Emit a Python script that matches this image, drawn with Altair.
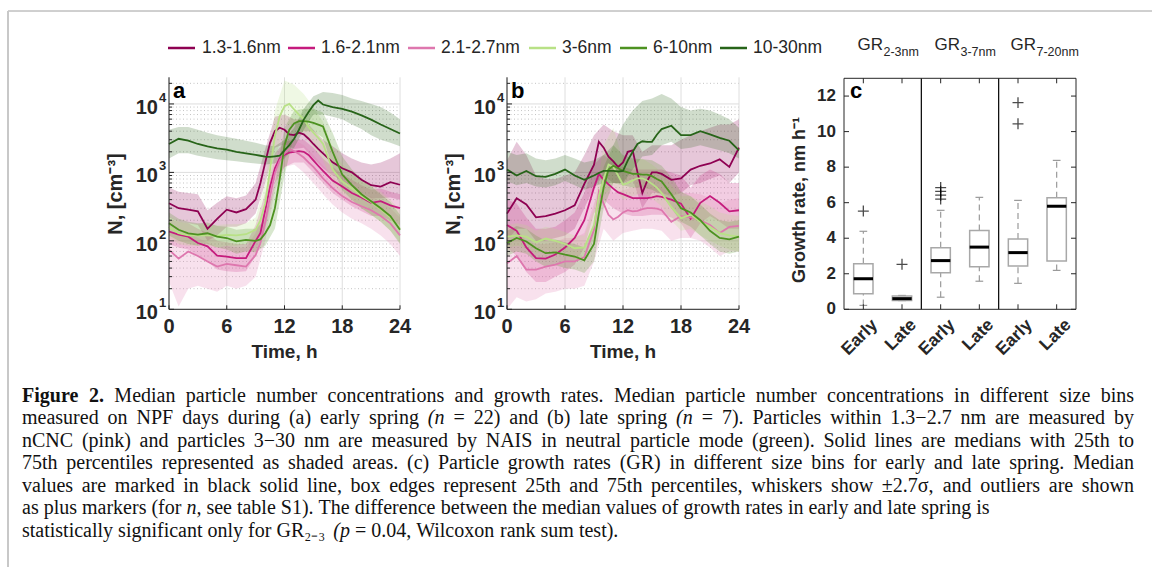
import altair as alt
import pandas as pd

# ---------------- data ----------------
SERIES = ["1.3-1.6nm", "1.6-2.1nm", "2.1-2.7nm", "3-6nm", "6-10nm", "10-30nm"]
COLORS = ["#8e0152", "#c51b7d", "#de77ae", "#b8e186", "#4d9221", "#276419"]

T_MED = [0, 1, 2, 3, 4, 5, 6, 7, 8, 9, 9.5, 10, 10.5, 11, 11.5, 12, 12.5, 13, 13.5,
         14, 14.5, 15, 15.5, 16, 17, 18, 19, 20, 21, 22, 23, 24]
T_BAND = [0, 1, 2, 3, 4, 5, 6, 7, 8, 9, 10, 11, 12, 13, 14, 15, 16, 17, 18, 19, 20, 21, 22, 23, 24]

# panel a (early spring) medians
A_MED_1316 = [355, 300, 285, 270, 150, 210, 285, 260, 290, 400, 700, 1400, 2700, 4000, 4500, 4200, 3600, 3500, 3800, 3600, 3100, 2600, 2200, 1900, 1400, 1150, 1000, 780, 650, 620, 720, 660]
A_MED_1621 = [137, 123, 115, 93, 83, 61, 59, 56, 56, 100, 130, 280, 620, 1150, 1600, 1800, 1950, 2000, 2050, 2000, 1800, 1500, 1250, 1050, 760, 620, 500, 430, 360, 380, 330, 300]
A_MED_2127 = [74, 55, 70, 60, 50, 42, 46, 44, 42, 62, 93, 190, 450, 970, 1500, 1900, 2200, 2050, 1850, 1650, 1400, 1200, 1000, 820, 590, 450, 370, 320, 280, 230, 180, 120]
A_MED_36 = [160, 130, 120, 120, 120, 118, 122, 120, 125, 145, 200, 355, 1100, 3400, 6600, 9300, 10000, 8300, 7000, 6000, 4600, 3800, 3200, 2600, 1100, 740, 580, 450, 370, 290, 220, 150]
A_MED_610 = [180, 145, 129, 123, 129, 115, 110, 98, 103, 100, 105, 129, 170, 300, 800, 2500, 4200, 5200, 5600, 5600, 5500, 5300, 5000, 4700, 2000, 930, 650, 480, 380, 300, 230, 145]
A_MED_1030 = [2600, 3100, 2900, 2600, 2400, 2250, 2150, 2000, 1900, 1800, 1750, 1700, 1680, 1720, 1750, 2100, 2500, 3100, 4200, 5900, 7600, 9600, 11200, 9800, 9000, 8500, 7700, 6800, 5900, 5000, 4300, 3700]

# panel a 25th / 75th percentiles (hourly)
A_LO_1316 = [220, 190, 180, 170, 100, 120, 160, 160, 180, 250, 700, 2300, 2600, 2200, 2300, 1600, 1150, 900, 750, 620, 500, 420, 420, 430, 400]
A_HI_1316 = [600, 520, 500, 480, 280, 360, 450, 420, 460, 700, 2200, 6500, 7000, 6000, 6000, 4200, 3000, 2400, 1900, 1600, 1400, 1300, 1400, 1600, 1900]
A_LO_1621 = [90, 80, 75, 60, 50, 38, 36, 35, 36, 60, 150, 700, 1200, 1400, 1400, 1000, 700, 500, 400, 320, 270, 230, 230, 200, 170]
A_HI_1621 = [210, 190, 180, 150, 130, 100, 95, 90, 90, 170, 500, 1900, 2800, 3000, 3000, 2300, 1600, 1200, 950, 780, 650, 560, 580, 520, 480]
A_LO_2127 = [25, 11, 20, 22, 20, 18, 22, 20, 22, 30, 100, 550, 1200, 1300, 1000, 700, 480, 340, 260, 210, 180, 150, 120, 90, 60]
A_HI_2127 = [140, 120, 130, 110, 95, 80, 85, 80, 80, 130, 350, 1600, 2900, 3000, 2500, 1800, 1250, 900, 700, 580, 500, 440, 380, 300, 220]
A_LO_36 = [110, 90, 85, 85, 85, 80, 85, 85, 90, 100, 200, 1500, 5000, 5000, 3500, 2300, 1500, 700, 480, 380, 300, 240, 190, 140, 95]
A_HI_36 = [230, 190, 180, 175, 175, 170, 175, 175, 180, 220, 700, 8000, 22000, 19000, 14000, 9000, 5500, 2300, 1300, 1000, 800, 650, 520, 400, 280]
A_LO_610 = [120, 100, 90, 85, 90, 80, 75, 65, 70, 68, 85, 150, 900, 3500, 4000, 4000, 3200, 1200, 550, 400, 300, 240, 190, 140, 90]
A_HI_610 = [260, 210, 190, 180, 185, 165, 160, 145, 150, 150, 200, 700, 4500, 8000, 8500, 8500, 7500, 3800, 1700, 1100, 800, 620, 480, 370, 240]
A_LO_1030 = [1600, 1900, 1900, 1750, 1650, 1550, 1500, 1450, 1400, 1350, 1300, 1350, 1600, 2300, 4200, 7000, 7000, 6500, 6000, 5000, 4300, 3500, 3000, 2700, 2400]
A_HI_1030 = [4200, 4600, 4600, 4200, 3800, 3500, 3300, 3100, 2900, 2700, 2500, 2400, 3000, 4500, 8500, 13000, 15000, 14500, 13500, 12000, 11000, 10000, 9000, 7500, 6000]

# panel b (late spring) medians
B_MED_1316 = [250, 420, 340, 220, 230, 250, 280, 330, 680, 1300, 2800, 2300, 1700, 1450, 1200, 1400, 2000, 2100, 1000, 500, 750, 1000, 1000, 950, 780, 820, 1100, 1250, 1350, 1550, 1200, 2300]
B_MED_1621 = [170, 140, 80, 56, 55, 63, 80, 110, 200, 600, 950, 780, 670, 580, 510, 480, 450, 420, 420, 420, 420, 430, 450, 440, 400, 350, 210, 360, 450, 360, 270, 280]
B_MED_2127 = [47, 60, 38, 38, 42, 45, 50, 50, 58, 145, 520, 350, 240, 205, 225, 260, 280, 270, 275, 290, 300, 300, 295, 280, 190, 230, 220, 200, 170, 130, 160, 165]
B_MED_36 = [115, 120, 115, 95, 108, 100, 90, 78, 80, 170, 450, 800, 1300, 1200, 900, 660, 700, 760, 820, 820, 760, 680, 600, 500, 310, 215, 240, 190, 160, 130, 120, 115]
B_MED_610 = [93, 110, 98, 78, 66, 68, 63, 59, 52, 90, 250, 600, 1100, 1250, 1150, 1050, 1000, 950, 950, 930, 930, 880, 800, 740, 480, 300, 260, 200, 140, 110, 105, 115]
B_MED_1030 = [1100, 900, 1050, 880, 860, 950, 1100, 900, 780, 900, 980, 1050, 1050, 1050, 1030, 1050, 1500, 2000, 2600, 2850, 2800, 2800, 3550, 4300, 4800, 3500, 3500, 4000, 3600, 3200, 2900, 2100]

# panel b 25th / 75th percentiles (hourly)
B_LO_1316 = [100, 150, 150, 100, 100, 110, 120, 150, 300, 600, 900, 700, 700, 800, 300, 500, 500, 450, 500, 650, 700, 800, 900, 700, 1000]
B_HI_1316 = [1500, 2800, 1800, 900, 800, 800, 900, 1000, 1800, 3500, 5000, 4000, 3500, 3500, 2000, 2500, 2500, 2500, 3000, 3500, 4000, 4500, 5000, 5000, 6000]
B_LO_1621 = [80, 60, 35, 25, 25, 30, 35, 45, 80, 250, 400, 300, 250, 230, 230, 240, 240, 220, 180, 110, 180, 230, 190, 150, 150]
B_HI_1621 = [400, 350, 220, 150, 150, 160, 200, 260, 500, 1300, 1800, 1400, 1200, 1100, 1100, 1100, 1100, 1000, 900, 600, 900, 1100, 950, 700, 700]
B_LO_2127 = [10, 15, 13, 14, 17, 18, 20, 20, 22, 50, 150, 100, 130, 140, 150, 150, 140, 100, 110, 110, 100, 80, 60, 70, 70]
B_HI_2127 = [140, 150, 100, 90, 90, 95, 110, 110, 130, 350, 800, 500, 550, 600, 650, 650, 600, 450, 500, 500, 480, 420, 350, 400, 420]
B_LO_36 = [80, 85, 80, 65, 75, 70, 62, 55, 55, 110, 450, 650, 400, 450, 500, 420, 320, 200, 140, 150, 120, 100, 85, 75, 70]
B_HI_36 = [170, 180, 170, 140, 160, 150, 135, 120, 120, 300, 2500, 4500, 1500, 1500, 1600, 1300, 1000, 650, 450, 450, 380, 320, 260, 240, 230]
B_LO_610 = [60, 70, 65, 50, 42, 44, 40, 38, 34, 50, 300, 700, 650, 600, 600, 560, 470, 300, 190, 160, 120, 90, 70, 65, 70]
B_HI_610 = [140, 165, 150, 120, 100, 105, 95, 90, 80, 160, 1200, 2500, 1800, 1600, 1550, 1500, 1250, 850, 520, 450, 340, 250, 200, 190, 200]
B_LO_1030 = [750, 650, 700, 620, 600, 650, 750, 650, 560, 620, 700, 700, 700, 1100, 1700, 1800, 2500, 2800, 2200, 2300, 2500, 2300, 2100, 1900, 1600]
B_HI_1030 = [2000, 1800, 1900, 1600, 1500, 1600, 1800, 1600, 1400, 1500, 1800, 2500, 5000, 8000, 11000, 12000, 14000, 12000, 9000, 8000, 8500, 8000, 7000, 6000, 4500]

# axis ticks of panels a, b
MAJOR_TICKS = [10, 100, 1000, 10000]
EXPONENTS = ["1", "2", "3", "4"]
MINOR_TICKS = [20, 30, 40, 50, 60, 70, 80, 90, 200, 300, 400, 500, 600, 700, 800, 900,
               2000, 3000, 4000, 5000, 6000, 7000, 8000, 9000, 20000]
HOUR_TICKS = [0, 6, 12, 18, 24]

# panel c: growth-rate box plots
GR_POS = [1, 2, 3, 4, 5, 6]
GR_CAT = ["Early", "Late", "Early", "Late", "Early", "Late"]
GR_WLO = [0.22, 0.49, 0.68, 1.58, 1.46, 2.19]
GR_Q1 = [0.88, 0.50, 2.06, 2.40, 2.44, 2.72]
GR_MED = [1.72, 0.60, 2.74, 3.50, 3.19, 5.80]
GR_Q3 = [2.57, 0.75, 3.47, 4.43, 3.96, 6.28]
GR_WHI = [4.39, 0.78, 5.57, 6.30, 6.13, 8.38]
OUT_POS = [1, 2, 3, 3, 3, 3, 5, 5]
OUT_VAL = [5.53, 2.53, 6.20, 6.42, 6.64, 6.85, 10.44, 11.63]
GR_TICKS = [0, 2, 4, 6, 8, 10, 12]
GR_GROUPS = ["2-3nm", "3-7nm", "7-20nm"]
GR_DIVIDERS = [2.5, 4.5]

CAPTION = [
    "Figure 2. Median particle number concentrations and growth rates. Median particle number concentrations in different size bins",
    "measured on NPF days during (a) early spring (n = 22) and (b) late spring (n = 7). Particles within 1.3\u22122.7 nm are measured by",
    "nCNC (pink) and particles 3\u221230 nm are measured by NAIS in neutral particle mode (green). Solid lines are medians with 25th to",
    "75th percentiles represented as shaded areas. (c) Particle growth rates (GR) in different size bins for early and late spring. Median",
    "values are marked in black solid line, box edges represent 25th and 75th percentiles, whiskers show \u00b12.7\u03c3, and outliers are shown",
    "as plus markers (for n, see table S1). The difference between the median values of growth rates in early and late spring is",
    "statistically significant only for GR\u2082\u208b\u2083 (p = 0.04, Wilcoxon rank sum test).",
]
CAPTION_JUSTIFIED = [True, True, True, True, True, False, False]
CAPTION_BOLD = {"Figure", "2."}
CAPTION_ITALIC = {"(n", "n,", "(p"}

# ---------------- layout / style ----------------
W, H = 1152, 567
SANS = "Liberation Sans"
SERIF = "Liberation Serif"
TXT = "#262626"
Y_BOT, Y_TOP = 309.3, 77.3
Y_DOMAIN = [10, 24500]
PANEL_A = (169, 400)
PANEL_B = (507, 739)
PANEL_C = (844, 1076)
C_TOP = 78.3
ONE = pd.DataFrame({"k": [0]})

# Times / Liberation Serif advance widths (1/1000 em)
SERIF_W = dict(zip("abcdefghijklmnopqrstuvwxyz",
                   [444, 500, 444, 500, 444, 333, 500, 500, 278, 278, 500, 278, 778, 500, 500, 500, 500,
                    333, 389, 278, 500, 500, 722, 500, 500, 444]))
SERIF_W.update(zip("ABCDEFGHIJKLMNOPQRSTUVWXYZ",
                   [722, 667, 667, 722, 611, 556, 722, 722, 333, 389, 722, 611, 889, 722, 722, 556, 722,
                    667, 556, 611, 722, 722, 944, 722, 722, 611]))
SERIF_W.update({d: 500 for d in "0123456789"})
SERIF_W.update({" ": 250, ".": 250, ",": 250, "(": 333, ")": 333, "-": 333, "=": 564,
                "\u2212": 564, "\u00b1": 564, "\u03c3": 550, ":": 278,
                "\u2082": 400, "\u2083": 400, "\u208b": 400})
SERIF_BOLD_W = dict(SERIF_W)
SERIF_BOLD_W.update({"F": 611, "i": 278, "g": 500, "u": 556, "r": 444, "e": 444})


def fixed_rule(**enc):
    return alt.Chart(ONE).mark_rule(color=enc.pop("color", TXT), strokeWidth=enc.pop("sw", 1)).encode(**enc)


def ts_panel(x0, x1, med, lo, hi, letter):
    xs = alt.Scale(domain=[0, 24], range=[x0, x1], nice=False, zero=False)
    ys = alt.Scale(type="log", domain=Y_DOMAIN, range=[Y_BOT, Y_TOP], nice=False)

    def X(f):
        return alt.X(f, type="quantitative", scale=xs, axis=None)

    def Y(f):
        return alt.Y(f, type="quantitative", scale=ys, axis=None)

    minor = pd.DataFrame({"v": MINOR_TICKS})
    major = pd.DataFrame({"v": MAJOR_TICKS, "base": ["10"] * 4, "exp": EXPONENTS})
    hours = pd.DataFrame({"t": HOUR_TICKS, "lab": [str(h) for h in HOUR_TICKS]})
    L = []
    L.append(alt.Chart(minor).mark_rule(color="#c4c4c4", strokeDash=[1, 2.5], strokeWidth=1)
             .encode(y=Y("v"), x=alt.value(x0), x2=alt.value(x1)))
    L.append(alt.Chart(major).mark_rule(color="#dedede", strokeWidth=1)
             .encode(y=Y("v"), x=alt.value(x0), x2=alt.value(x1)))
    L.append(alt.Chart(hours).mark_rule(color="#dedede", strokeWidth=1)
             .encode(x=X("t"), y=alt.value(Y_TOP), y2=alt.value(Y_BOT)))
    for i in range(6):
        df = pd.DataFrame({"t": T_BAND, "lo": lo[i], "hi": hi[i]})
        L.append(alt.Chart(df).mark_area(color=COLORS[i], opacity=0.22)
                 .encode(x=X("t"), y=Y("lo"), y2="hi"))
    for i in range(6):
        df = pd.DataFrame({"t": T_MED, "v": med[i]})
        L.append(alt.Chart(df).mark_line(color=COLORS[i], strokeWidth=1.8)
                 .encode(x=X("t"), y=Y("v")))
    # axes
    L.append(fixed_rule(x=alt.value(x0), y=alt.value(Y_TOP), y2=alt.value(Y_BOT)))
    L.append(fixed_rule(x=alt.value(x0), x2=alt.value(x1), y=alt.value(Y_BOT)))
    L.append(alt.Chart(major).mark_rule(color=TXT).encode(y=Y("v"), x=alt.value(x0), x2=alt.value(x0 + 5)))
    L.append(alt.Chart(minor).mark_rule(color=TXT).encode(y=Y("v"), x=alt.value(x0), x2=alt.value(x0 + 3)))
    L.append(alt.Chart(hours).mark_rule(color=TXT).encode(x=X("t"), y=alt.value(Y_BOT), y2=alt.value(Y_BOT - 4)))
    L.append(alt.Chart(major).mark_text(align="right", baseline="middle", font=SANS, fontSize=20,
                                        fontWeight="bold", color=TXT, dy=4)
             .encode(y=Y("v"), x=alt.value(x0 - 11), text="base:N"))
    L.append(alt.Chart(major).mark_text(align="left", baseline="middle", font=SANS, fontSize=13,
                                        fontWeight="bold", color=TXT, dy=-6)
             .encode(y=Y("v"), x=alt.value(x0 - 10), text="exp:N"))
    L.append(alt.Chart(hours).mark_text(align="center", baseline="middle", font=SANS, fontSize=20,
                                        fontWeight="bold", color=TXT)
             .encode(x=X("t"), y=alt.value(Y_BOT + 18), text="lab:N"))
    L.append(alt.Chart(ONE).mark_text(align="center", baseline="middle", font=SANS, fontSize=19,
                                      fontWeight="bold", color=TXT)
             .encode(x=alt.value((x0 + x1) / 2), y=alt.value(352), text=alt.value("Time, h")))
    L.append(alt.Chart(ONE).mark_text(align="center", baseline="middle", font=SANS, fontSize=20,
                                      fontWeight="bold", color=TXT, angle=270)
             .encode(x=alt.value(x0 - 53), y=alt.value(194), text=alt.value("N, [cm\u207b\u00b3]")))
    L.append(alt.Chart(ONE).mark_text(align="left", baseline="middle", font=SANS, fontSize=22,
                                      fontWeight="bold", color="black")
             .encode(x=alt.value(x0 + 4), y=alt.value(91), text=alt.value(letter)))
    return L


def gr_panel():
    x0, x1 = PANEL_C
    xs = alt.Scale(domain=[0.5, 6.5], range=[x0, x1], nice=False, zero=False)
    ys = alt.Scale(domain=[0, 13], range=[Y_BOT, C_TOP], nice=False, zero=False)

    def X(f):
        return alt.X(f, type="quantitative", scale=xs, axis=None)

    def Y(f):
        return alt.Y(f, type="quantitative", scale=ys, axis=None)

    box = pd.DataFrame({"pos": GR_POS, "cat": GR_CAT, "wlo": GR_WLO, "q1": GR_Q1,
                        "med": GR_MED, "q3": GR_Q3, "whi": GR_WHI})
    box["l"] = box["pos"] - 0.25
    box["r"] = box["pos"] + 0.25
    box["cl"] = box["pos"] - 0.1
    box["cr"] = box["pos"] + 0.1
    box["lx"] = box["pos"] + 0.3
    outl = pd.DataFrame({"pos": OUT_POS, "v": OUT_VAL})
    ticks = pd.DataFrame({"v": GR_TICKS, "lab": [str(v) for v in GR_TICKS]})
    divs = pd.DataFrame({"d": GR_DIVIDERS})
    wc = "#9a9a9a"
    L = []
    L.append(alt.Chart(box).mark_rule(color=wc, strokeDash=[6, 4], strokeWidth=1.2)
             .encode(x=X("pos"), y=Y("q3"), y2="whi"))
    L.append(alt.Chart(box).mark_rule(color=wc, strokeDash=[6, 4], strokeWidth=1.2)
             .encode(x=X("pos"), y=Y("wlo"), y2="q1"))
    L.append(alt.Chart(box).mark_rule(color=wc, strokeWidth=1.2).encode(x=X("cl"), x2="cr", y=Y("whi")))
    L.append(alt.Chart(box).mark_rule(color=wc, strokeWidth=1.2).encode(x=X("cl"), x2="cr", y=Y("wlo")))
    L.append(alt.Chart(box).mark_rect(fill="white", stroke="#a8a8a8", strokeWidth=1.5)
             .encode(x=X("l"), x2="r", y=Y("q1"), y2="q3"))
    L.append(alt.Chart(box).mark_rule(color="black", strokeWidth=3).encode(x=X("l"), x2="r", y=Y("med")))
    L.append(alt.Chart(outl).mark_point(shape="M-1,0L1,0M0,-1L0,1", size=120, filled=False,
                                        stroke="black", strokeWidth=1.3)
             .encode(x=X("pos"), y=Y("v")))
    L.append(alt.Chart(divs).mark_rule(color="black", strokeWidth=1.2)
             .encode(x=X("d"), y=alt.value(C_TOP), y2=alt.value(Y_BOT)))
    L.append(alt.Chart(ONE).mark_rect(fillOpacity=0, stroke=TXT, strokeWidth=1)
             .encode(x=alt.value(x0), x2=alt.value(x1), y=alt.value(C_TOP), y2=alt.value(Y_BOT)))
    L.append(alt.Chart(ticks).mark_rule(color=TXT).encode(y=Y("v"), x=alt.value(x0), x2=alt.value(x0 + 5)))
    L.append(alt.Chart(ticks).mark_rule(color=TXT).encode(y=Y("v"), x=alt.value(x1 - 5), x2=alt.value(x1)))
    L.append(alt.Chart(box).mark_rule(color=TXT).encode(x=X("pos"), y=alt.value(Y_BOT), y2=alt.value(Y_BOT - 5)))
    L.append(alt.Chart(box).mark_rule(color=TXT).encode(x=X("pos"), y=alt.value(C_TOP), y2=alt.value(C_TOP + 5)))
    L.append(alt.Chart(ticks).mark_text(align="right", baseline="middle", font=SANS, fontSize=17,
                                        fontWeight="bold", color=TXT)
             .encode(y=Y("v"), x=alt.value(x0 - 8), text="lab:N"))
    L.append(alt.Chart(box).mark_text(align="right", baseline="middle", font=SANS, fontSize=17.5,
                                      fontWeight="bold", color=TXT, angle=315)
             .encode(x=X("lx"), y=alt.value(Y_BOT + 13), text="cat:N"))
    L.append(alt.Chart(ONE).mark_text(align="center", baseline="middle", font=SANS, fontSize=18,
                                      fontWeight="bold", color=TXT, angle=270)
             .encode(x=alt.value(800), y=alt.value(200), text=alt.value("Growth rate, nm h\u207b\u00b9")))
    L.append(alt.Chart(ONE).mark_text(align="left", baseline="middle", font=SANS, fontSize=22,
                                      fontWeight="bold", color="black")
             .encode(x=alt.value(x0 + 6), y=alt.value(91), text=alt.value("c")))
    gr_right = [883, 960, 1036]
    for k in range(3):
        L.append(alt.Chart(ONE).mark_text(align="right", baseline="middle", font=SANS, fontSize=17,
                                          color=TXT)
                 .encode(x=alt.value(gr_right[k]), y=alt.value(45), text=alt.value("GR")))
        L.append(alt.Chart(pd.DataFrame({"s": [GR_GROUPS[k]]}))
                 .mark_text(align="left", baseline="middle", font=SANS, fontSize=12.5, color=TXT)
                 .encode(x=alt.value(gr_right[k] + 0.5), y=alt.value(52), text="s:N"))
    return L


def legend():
    seg_x = [168, 288, 408, 529, 620, 720]
    txt_x = [202, 321, 441, 562, 653, 753]
    L = []
    for i in range(6):
        L.append(fixed_rule(x=alt.value(seg_x[i]), x2=alt.value(seg_x[i] + 27), y=alt.value(48),
                            color=COLORS[i], sw=2.5))
        L.append(alt.Chart(pd.DataFrame({"s": [SERIES[i]]}))
                 .mark_text(align="left", baseline="middle", font=SANS, fontSize=17.5, color=TXT)
                 .encode(x=alt.value(txt_x[i]), y=alt.value(48), text="s:N"))
    return L


def caption():
    fs = 20.0
    left, right = 22.0, 1134.0
    rows = []
    for li, (line, just) in enumerate(zip(CAPTION, CAPTION_JUSTIFIED)):
        words = line.split(" ")
        styles = ["bold" if (li == 0 and w in CAPTION_BOLD) else
                  ("italic" if w in CAPTION_ITALIC else "normal") for w in words]
        widths = [sum((SERIF_BOLD_W if s == "bold" else SERIF_W).get(c, 500) for c in w) * fs / 1000
                  for w, s in zip(words, styles)]
        if just and len(words) > 1:
            gap = (right - left - sum(widths)) / (len(words) - 1)
        else:
            gap = 250 * fs / 1000
        x = left
        for w, s, wd in zip(words, styles, widths):
            rows.append({"line": li, "x": x, "txt": w, "style": s})
            x += wd + gap
    df = pd.DataFrame(rows)
    ys = alt.Scale(domain=[0, 6], range=[396, 530.5], nice=False, zero=False)
    xs = alt.Scale(domain=[0, W], range=[0, W], nice=False, zero=False)
    L = []
    for style in ["normal", "bold", "italic"]:
        sub = df[df["style"] == style]
        mk = dict(align="left", baseline="middle", font=SERIF, fontSize=fs, color="#111")
        if style == "bold":
            mk["fontWeight"] = "bold"
        if style == "italic":
            mk["fontStyle"] = "italic"
        L.append(alt.Chart(sub).mark_text(**mk)
                 .encode(y=alt.Y("line:Q", scale=ys, axis=None),
                         x=alt.X("x:Q", scale=xs, axis=None), text="txt:N"))
    return L


def frame():
    return [
        fixed_rule(x=alt.value(8), x2=alt.value(W), y=alt.value(11), color="#a0a0a0", sw=1),
        fixed_rule(x=alt.value(8), y=alt.value(11), y2=alt.value(H), color="#c8c8c8", sw=2),
    ]


A_MED = [A_MED_1316, A_MED_1621, A_MED_2127, A_MED_36, A_MED_610, A_MED_1030]
A_LO = [A_LO_1316, A_LO_1621, A_LO_2127, A_LO_36, A_LO_610, A_LO_1030]
A_HI = [A_HI_1316, A_HI_1621, A_HI_2127, A_HI_36, A_HI_610, A_HI_1030]
B_MED = [B_MED_1316, B_MED_1621, B_MED_2127, B_MED_36, B_MED_610, B_MED_1030]
B_LO = [B_LO_1316, B_LO_1621, B_LO_2127, B_LO_36, B_LO_610, B_LO_1030]
B_HI = [B_HI_1316, B_HI_1621, B_HI_2127, B_HI_36, B_HI_610, B_HI_1030]

layers = (frame()
          + ts_panel(PANEL_A[0], PANEL_A[1], A_MED, A_LO, A_HI, "a")
          + ts_panel(PANEL_B[0], PANEL_B[1], B_MED, B_LO, B_HI, "b")
          + gr_panel() + legend() + caption())

chart = (alt.layer(*layers)
         .resolve_scale(x="independent", y="independent")
         .properties(width=W, height=H, autosize=alt.AutoSizeParams(type="none"), padding=0,
                     background="white")
         .configure_view(stroke=None))

chart.save("out.html", embed_options={"renderer": "svg", "actions": False})
